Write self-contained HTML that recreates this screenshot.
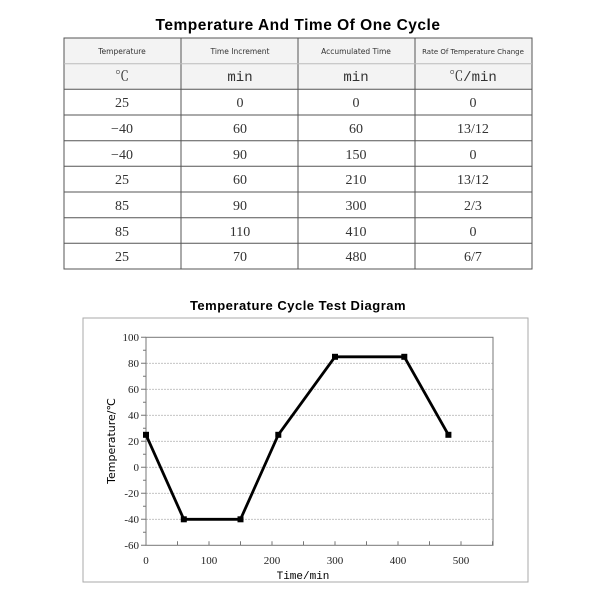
<!DOCTYPE html>
<html><head><meta charset="utf-8"><style>
body{margin:0;background:#fff;width:600px;height:600px;overflow:hidden}
</style></head><body>
<svg width="600" height="600" viewBox="0 0 600 600" xmlns="http://www.w3.org/2000/svg" font-family="Liberation Serif, Noto Serif CJK SC, serif">
<text x="298" y="30" text-anchor="middle" font-family="Liberation Sans, sans-serif" font-weight="bold" font-size="15.5" letter-spacing="0.5">Temperature And Time Of One Cycle</text>
<rect x="64" y="38" width="468" height="51" fill="#f3f3f3"/>
<g stroke="#555" stroke-width="1" fill="none">
<rect x="64" y="38" width="468" height="231"/>
<line x1="181" y1="38" x2="181" y2="269"/><line x1="298" y1="38" x2="298" y2="269"/><line x1="415" y1="38" x2="415" y2="269"/>
<line x1="64" y1="63.7" x2="532" y2="63.7" stroke="#bbb"/>
<line x1="64" y1="89.3" x2="532" y2="89.3"/><line x1="64" y1="115" x2="532" y2="115"/><line x1="64" y1="140.7" x2="532" y2="140.7"/><line x1="64" y1="166.3" x2="532" y2="166.3"/><line x1="64" y1="192" x2="532" y2="192"/><line x1="64" y1="217.7" x2="532" y2="217.7"/><line x1="64" y1="243.3" x2="532" y2="243.3"/>
</g>
<g font-size="7.5" text-anchor="middle" fill="#333" font-family="DejaVu Sans, sans-serif">
<text x="122" y="54">Temperature</text><text x="240" y="54">Time Increment</text><text x="356" y="54">Accumulated Time</text><text x="473" y="54" font-size="7">Rate Of Temperature Change</text>
</g>
<g font-size="14" text-anchor="middle" fill="#333" font-family="Liberation Mono, Noto Serif CJK SC, monospace">
<text x="122" y="81">℃</text><text x="240" y="81">min</text><text x="356" y="81">min</text><text x="473" y="81">℃/min</text>
</g>
<g font-size="14" text-anchor="middle" fill="#333">
<text x="122" y="107">25</text><text x="240" y="107">0</text><text x="356" y="107">0</text><text x="473" y="107">0</text>
<text x="122" y="133">−40</text><text x="240" y="133">60</text><text x="356" y="133">60</text><text x="473" y="133">13/12</text>
<text x="122" y="159">−40</text><text x="240" y="159">90</text><text x="356" y="159">150</text><text x="473" y="159">0</text>
<text x="122" y="184">25</text><text x="240" y="184">60</text><text x="356" y="184">210</text><text x="473" y="184">13/12</text>
<text x="122" y="210">85</text><text x="240" y="210">90</text><text x="356" y="210">300</text><text x="473" y="210">2/3</text>
<text x="122" y="236">85</text><text x="240" y="236">110</text><text x="356" y="236">410</text><text x="473" y="236">0</text>
<text x="122" y="261">25</text><text x="240" y="261">70</text><text x="356" y="261">480</text><text x="473" y="261">6/7</text>
</g>
<text x="298" y="310" text-anchor="middle" font-weight="bold" font-size="13" font-family="Liberation Sans, sans-serif" letter-spacing="0.5">Temperature Cycle Test Diagram</text>
<rect x="83" y="318" width="445" height="264" fill="none" stroke="#aaa"/>
<g stroke="#bbb" stroke-width="0.8" stroke-dasharray="2,1">
<line x1="146" y1="363.3" x2="493" y2="363.3"/><line x1="146" y1="389.3" x2="493" y2="389.3"/><line x1="146" y1="415.3" x2="493" y2="415.3"/><line x1="146" y1="441.3" x2="493" y2="441.3"/><line x1="146" y1="467.3" x2="493" y2="467.3"/><line x1="146" y1="493.3" x2="493" y2="493.3"/><line x1="146" y1="519.3" x2="493" y2="519.3"/>
</g>
<g stroke="#777" stroke-width="1" fill="none">
<rect x="146" y="337.3" width="347" height="208"/>
<path d="M146 350.3h-3M146 376.3h-3M146 402.3h-3M146 428.3h-3M146 454.3h-3M146 480.3h-3M146 506.3h-3M146 532.3h-3"/>
<path d="M146 337.3h-5M146 363.3h-5M146 389.3h-5M146 415.3h-5M146 441.3h-5M146 467.3h-5M146 493.3h-5M146 519.3h-5M146 545.3h-5"/>
<path d="M177.5 545.3v-4M209 545.3v-4M240.5 545.3v-4M272 545.3v-4M303.5 545.3v-4M335 545.3v-4M366.5 545.3v-4M398 545.3v-4M429.5 545.3v-4M461 545.3v-4M492.5 545.3v-4"/>
</g>
<g font-size="11" text-anchor="end" fill="#222">
<text x="139" y="341">100</text><text x="139" y="367">80</text><text x="139" y="393">60</text><text x="139" y="419">40</text><text x="139" y="445">20</text><text x="139" y="471">0</text><text x="139" y="497">-20</text><text x="139" y="523">-40</text><text x="139" y="549">-60</text>
</g>
<g font-size="11" text-anchor="middle" fill="#222">
<text x="146" y="564">0</text><text x="209" y="564">100</text><text x="272" y="564">200</text><text x="335" y="564">300</text><text x="398" y="564">400</text><text x="461" y="564">500</text>
</g>
<text x="303" y="579" text-anchor="middle" font-size="11" font-family="Liberation Mono, monospace">Time/min</text>
<text transform="translate(115,441) rotate(-90)" text-anchor="middle" font-size="11" font-family="DejaVu Sans, Noto Sans CJK SC, sans-serif">Temperature/℃</text>
<polyline points="146,434.8 183.8,519.3 240.5,519.3 278.3,434.8 335,356.8 404.3,356.8 448.4,434.8" fill="none" stroke="#000" stroke-width="2.8" stroke-linejoin="round"/>
<g fill="#000">
<rect x="143" y="431.8" width="6" height="6"/><rect x="180.8" y="516.3" width="6" height="6"/><rect x="237.5" y="516.3" width="6" height="6"/><rect x="275.3" y="431.8" width="6" height="6"/><rect x="332" y="353.8" width="6" height="6"/><rect x="401.3" y="353.8" width="6" height="6"/><rect x="445.4" y="431.8" width="6" height="6"/>
</g>
</svg>
</body></html>
